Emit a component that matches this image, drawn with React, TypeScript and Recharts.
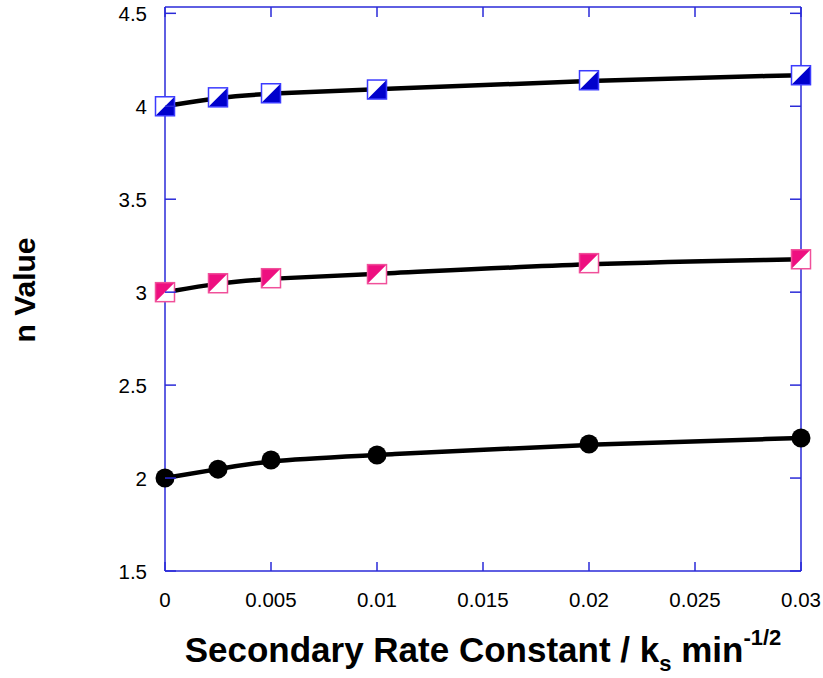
import React from 'react';
import { LineChart, Line, XAxis, YAxis } from 'recharts';

const ksValues = [0, 0.0025, 0.005, 0.01, 0.02, 0.03];
const nValueBlue = [4.0, 4.048, 4.07, 4.09, 4.14, 4.167];
const nValuePink = [3.0, 3.048, 3.075, 3.097, 3.156, 3.177];
const nValueBlack = [2.0, 2.048, 2.097, 2.124, 2.183, 2.215];

const xTicks = [0, 0.005, 0.01, 0.015, 0.02, 0.025, 0.03];
const xTickLabels = ['0', '0.005', '0.01', '0.015', '0.02', '0.025', '0.03'];
const yTicks = [1.5, 2, 2.5, 3, 3.5, 4, 4.5];
const yTickLabels = ['1.5', '2', '2.5', '3', '3.5', '4', '4.5'];

const data = ksValues.map((ks, i) => ({
  ks,
  blue: nValueBlue[i],
  pink: nValuePink[i],
  black: nValueBlack[i],
}));

const AXIS = '#2a2ad8';
const FONT = '"Liberation Sans", Arial, Helvetica, sans-serif';
const BLUE = '#0000cc';
const PINK = '#ee0f80';

const LeftTick = (p: any) => (
  <g>
    <line x1={p.x} y1={p.y} x2={p.x + 11} y2={p.y} stroke={AXIS} strokeWidth={1.5} />
    <text x={p.x - 18} y={p.y} textAnchor="end" dominantBaseline="central" fontSize={20.5} fontFamily={FONT} fill="#000">
      {yTickLabels[p.index]}
    </text>
  </g>
);

const RightTick = (p: any) => (
  <g>
    <line x1={p.x} y1={p.y} x2={p.x - 11} y2={p.y} stroke={AXIS} strokeWidth={1.5} />
  </g>
);

const BottomTick = (p: any) => (
  <g>
    <line x1={p.x} y1={p.y} x2={p.x} y2={p.y - 9} stroke={AXIS} strokeWidth={1.5} />
    <text x={p.x} y={p.y + 28} textAnchor="middle" dominantBaseline="central" fontSize={20.5} fontFamily={FONT} fill="#000">
      {xTickLabels[p.index]}
    </text>
  </g>
);

const TopTick = (p: any) => (
  <g>
    <line x1={p.x} y1={p.y} x2={p.x} y2={p.y + 10} stroke={AXIS} strokeWidth={1.5} />
  </g>
);

const H = 9.5;

const BlueMarker = (p: any) => {
  const { cx, cy, index } = p;
  return (
    <g key={`b-${index}`}>
      <rect x={cx - H} y={cy - H} width={2 * H} height={2 * H} fill="#fff" />
      <polygon points={`${cx + H},${cy - H} ${cx + H},${cy + H} ${cx - H},${cy + H}`} fill={BLUE} />
      <rect x={cx - H} y={cy - H} width={2 * H} height={2 * H} fill="none" stroke="#3b3bff" strokeWidth={1.5} />
    </g>
  );
};

const PinkMarker = (p: any) => {
  const { cx, cy, index } = p;
  return (
    <g key={`p-${index}`}>
      <rect x={cx - H} y={cy - H} width={2 * H} height={2 * H} fill="#fff" />
      <polygon points={`${cx - H},${cy - H} ${cx + H},${cy - H} ${cx - H},${cy + H}`} fill={PINK} />
      <rect x={cx - H} y={cy - H} width={2 * H} height={2 * H} fill="none" stroke="#f0509a" strokeWidth={1.5} />
    </g>
  );
};

const BlackMarker = (p: any) => {
  const { cx, cy, index } = p;
  return <circle key={`k-${index}`} cx={cx} cy={cy} r={9.5} fill="#000" />;
};

const XTitle = () => (
  <text x={483} y={662} textAnchor="middle" fontSize={35} fontWeight="bold" fontFamily={FONT} fill="#000">
    <tspan>Secondary Rate Constant / k</tspan>
    <tspan fontSize={22} dy={9}>s</tspan>
    <tspan dy={-9}> min</tspan>
    <tspan fontSize={22} dy={-17}>-1/2</tspan>
  </text>
);

const YTitle = () => (
  <text x={35} y={290} transform="rotate(-90 35 290)" textAnchor="middle" fontSize={30} fontWeight="bold" fontFamily={FONT} fill="#000">
    n Value
  </text>
);

export default function App() {
  return (
    <div style={{ position: 'absolute', left: 0, top: 0, width: 823, height: 678, background: '#fff' }}>
      <LineChart
        width={823}
        height={678}
        data={data}
        margin={{ top: 2, right: 12, bottom: 67, left: 105 }}
      >
        <XAxis
          dataKey="ks"
          type="number"
          domain={[0, 0.03]}
          ticks={xTicks}
          interval={0}
          height={40}
          tickSize={0}
          tickMargin={0}
          tickLine={false}
          tick={BottomTick}
          axisLine={{ stroke: AXIS, strokeWidth: 1.5 }}
          label={{ content: XTitle }}
        />
        <XAxis
          xAxisId="top"
          orientation="top"
          dataKey="ks"
          type="number"
          domain={[0, 0.03]}
          ticks={xTicks}
          interval={0}
          height={5}
          tickSize={0}
          tickMargin={0}
          tickLine={false}
          tick={TopTick}
          axisLine={{ stroke: AXIS, strokeWidth: 1.5 }}
        />
        <YAxis
          type="number"
          domain={[1.5, 4.534]}
          ticks={yTicks}
          interval={0}
          width={60}
          tickSize={0}
          tickMargin={0}
          tickLine={false}
          tick={LeftTick}
          allowDataOverflow
          axisLine={{ stroke: AXIS, strokeWidth: 1.5 }}
          label={{ content: YTitle }}
        />
        <YAxis
          yAxisId="right"
          orientation="right"
          type="number"
          domain={[1.5, 4.534]}
          ticks={yTicks}
          interval={0}
          width={10}
          tickSize={0}
          tickMargin={0}
          tickLine={false}
          tick={RightTick}
          allowDataOverflow
          axisLine={{ stroke: AXIS, strokeWidth: 1.5 }}
        />
        <Line dataKey="blue" type="basis" stroke="#000" strokeWidth={4.5} dot={BlueMarker} activeDot={false} isAnimationActive={false} />
        <Line dataKey="pink" type="basis" stroke="#000" strokeWidth={4.5} dot={PinkMarker} activeDot={false} isAnimationActive={false} />
        <Line dataKey="black" type="basis" stroke="#000" strokeWidth={4.5} dot={BlackMarker} activeDot={false} isAnimationActive={false} />
      </LineChart>
    </div>
  );
}
